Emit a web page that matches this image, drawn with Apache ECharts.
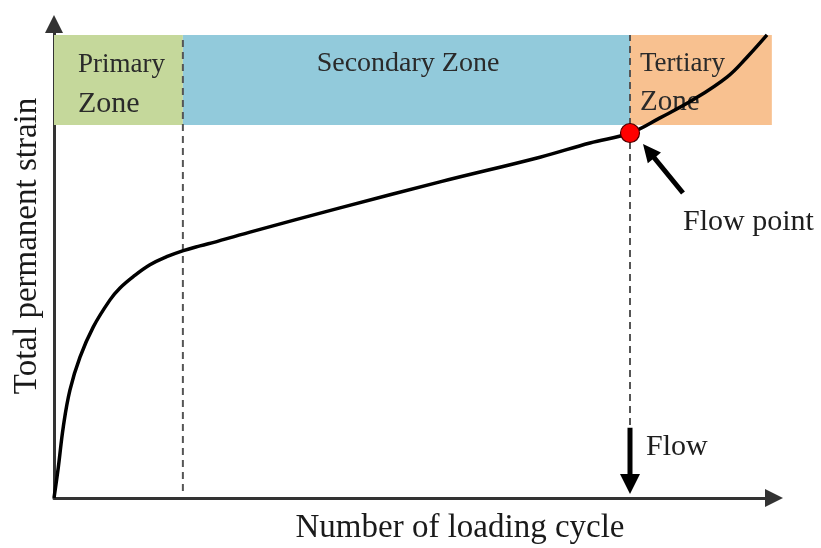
<!DOCTYPE html>
<html>
<head>
<meta charset="utf-8">
<script src="https://cdn.jsdelivr.net/npm/echarts@6/dist/echarts.min.js"></script>
<style>
  html, body { margin: 0; padding: 0; background: #fff; }
  #chart { width: 821px; height: 548px; }
</style>
</head>
<body>
<div id="chart"></div>
<script>
// Permanent strain vs. loading cycles (schematic units, 0–100 on both axes)
const cycles = [0, 0.60, 1.29, 2.22, 3.61, 5.46, 7.78, 9.17, 11.01, 13.33, 15.65, 17.96, 20.28, 22.60, 24.90, 27.22, 39.72, 53.61, 67.50, 74.44, 80.0, 84.17, 88.75, 93.47, 96.25, 99.03];
const strain = [0, 6.5, 15.0, 22.8, 29.7, 36.1, 41.8, 44.3, 46.7, 49.2, 50.9, 52.2, 53.2, 54.1, 55.1, 56.1, 61.2, 66.7, 71.9, 74.9, 77.0, 80.2, 84.0, 88.8, 93.0, 97.7];

// Deformation zones along the cycle axis
const zoneNames = ['Primary Zone', 'Secondary Zone', 'Tertiary Zone'];
const zoneStart = [0, 17.9, 80.0];
const zoneEnd = [17.9, 80.0, 99.7];
const zoneColors = ['#c5d89b', '#92cadb', '#f8c190'];
const bandLow = 78.7;
const bandHigh = 97.7;

// Onset of tertiary flow
const flowPoint = [80.0, 77.0];
const primaryEndLine = [[17.9, 1.5], [17.9, 97.7]];
const flowLine = [[80.0, 15.4], [80.0, 97.7]];

const axisTitleX = 'Number of loading cycle';
const axisTitleY = 'Total permanent strain';
const flowPointLabel = 'Flow point';
const flowLabel = 'Flow';

const SERIF = '"Liberation Serif", "Times New Roman", serif';
const chart = echarts.init(document.getElementById('chart'));

const curve = cycles.map((c, i) => [c, strain[i]]);
const dashStyle = { color: '#555', width: 2, type: [7, 5] };

chart.setOption({
  animation: false,
  grid: { left: 54, right: 47, top: 24, bottom: 50 },
  xAxis: {
    type: 'value', min: 0, max: 100,
    axisLine: { show: true, onZero: false, symbol: ['none', 'triangle'], symbolSize: [18, 18],
                lineStyle: { color: '#333', width: 3 } },
    axisTick: { show: false }, axisLabel: { show: false }, splitLine: { show: false }
  },
  yAxis: {
    type: 'value', min: 0, max: 100,
    axisLine: { show: true, onZero: false, symbol: ['none', 'triangle'], symbolSize: [18, 18],
                lineStyle: { color: '#333', width: 3 } },
    axisTick: { show: false }, axisLabel: { show: false }, splitLine: { show: false }
  },
  series: [
    {
      type: 'line', data: [], z: 1, silent: true,
      markArea: {
        silent: true,
        data: zoneNames.map((n, i) => [
          { xAxis: zoneStart[i], yAxis: bandLow, itemStyle: { color: zoneColors[i] } },
          { xAxis: zoneEnd[i], yAxis: bandHigh }
        ])
      }
    },
    { type: 'line', data: primaryEndLine, z: 3, symbol: 'none', lineStyle: dashStyle, silent: true },
    { type: 'line', data: flowLine, z: 3, symbol: 'none', lineStyle: dashStyle, silent: true },
    {
      type: 'line', data: curve, z: 4, symbol: 'none', smooth: 0.4,
      lineStyle: { color: '#000', width: 3.5 }, silent: true
    },
    {
      type: 'scatter', data: [flowPoint], z: 5, symbolSize: 19, silent: true,
      itemStyle: { color: '#ff0000', borderColor: '#4a0000', borderWidth: 1.2, opacity: 1 }
    }
  ]
});

// Filled arrow (shaft + triangular head) as a polygon from tail to tip
function arrowPoly(x1, y1, x2, y2, shaftW, headLen, headW) {
  const dx = x2 - x1, dy = y2 - y1, L = Math.hypot(dx, dy);
  const ux = dx / L, uy = dy / L, nx = -uy, ny = ux;
  const bx = x2 - ux * headLen, by = y2 - uy * headLen;
  return [
    [x1 + nx * shaftW / 2, y1 + ny * shaftW / 2],
    [bx + nx * shaftW / 2, by + ny * shaftW / 2],
    [bx + nx * headW / 2, by + ny * headW / 2],
    [x2, y2],
    [bx - nx * headW / 2, by - ny * headW / 2],
    [bx - nx * shaftW / 2, by - ny * shaftW / 2],
    [x1 - nx * shaftW / 2, y1 - ny * shaftW / 2]
  ];
}

const fp = chart.convertToPixel({ gridIndex: 0 }, flowPoint);
const origin = chart.convertToPixel({ gridIndex: 0 }, [0, 0]);
const flowTop = chart.convertToPixel({ gridIndex: 0 }, [flowPoint[0], 14.8]);

function txt(text, x, y, size, opts) {
  return {
    type: 'text', x: x, y: y, z: 2, silent: true,
    style: Object.assign({ text: text, font: size + 'px ' + SERIF, fill: '#2a2a2a',
                           align: 'left', verticalAlign: 'middle' }, opts || {})
  };
}

const primaryWords = zoneNames[0].split(' ');
const tertiaryWords = zoneNames[2].split(' ');

chart.setOption({
  graphic: [
    txt(primaryWords[0], 78, 65, 27),
    txt(primaryWords[1], 78, 104, 30),
    txt(zoneNames[1], 408, 64, 28, { align: 'center' }),
    txt(tertiaryWords[0], 640, 64, 27),
    txt(tertiaryWords[1], 640, 102, 29),
    txt(flowPointLabel, 683, 222, 30, { fill: '#1e1e1e' }),
    txt(flowLabel, 646, 447, 30, { fill: '#1e1e1e' }),
    txt(axisTitleX, 460, 528, 33, { align: 'center', fill: '#1a1a1a' }),
    Object.assign(txt(axisTitleY, 27, 246, 33, { align: 'center', fill: '#1a1a1a' }), { rotation: Math.PI / 2 }),
    {
      type: 'polygon', z: 6, silent: true,
      shape: { points: arrowPoly(fp[0] + 53, fp[1] + 60, fp[0] + 13, fp[1] + 11, 5, 18, 17) },
      style: { fill: '#000' }
    },
    {
      type: 'polygon', z: 6, silent: true,
      shape: { points: arrowPoly(flowTop[0], flowTop[1], flowTop[0], origin[1] - 4, 5, 20, 20) },
      style: { fill: '#000' }
    }
  ]
});
</script>
</body>
</html>
